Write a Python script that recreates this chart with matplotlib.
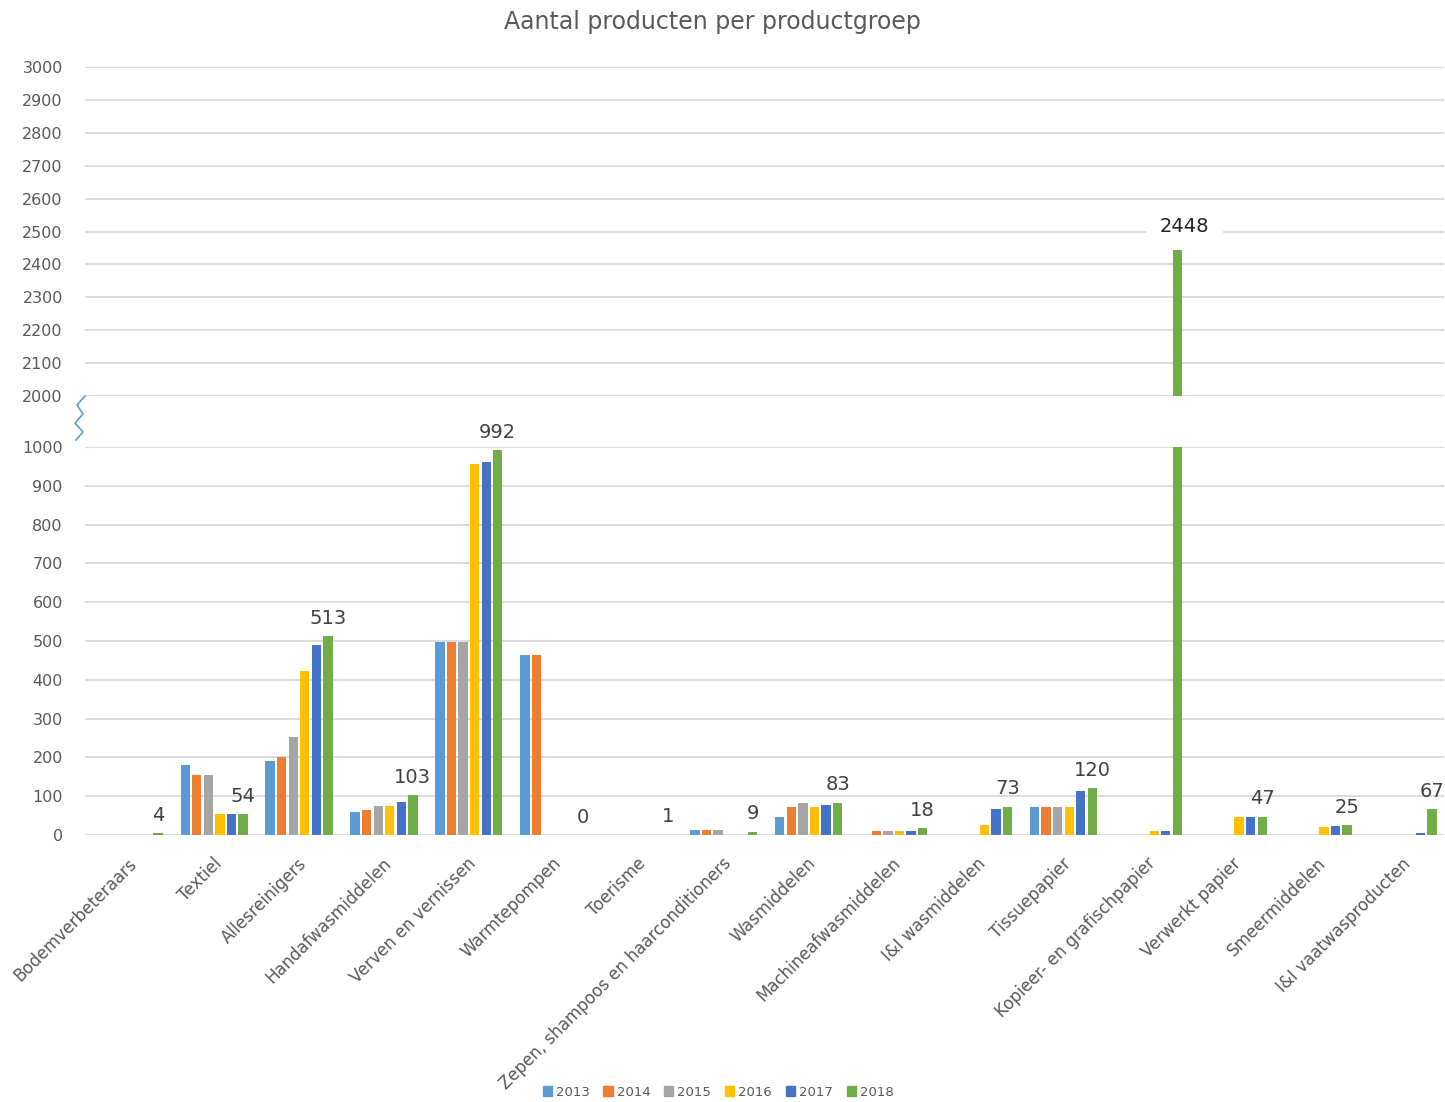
import numpy as np
import matplotlib
matplotlib.use("Agg")
import matplotlib.pyplot as plt
from matplotlib.lines import Line2D

# data
groups = ["Bodemverbeteraars", "Textiel", "Allesreinigers", "Handafwasmiddelen",
          "Verven en vernissen", "Warmtepompen", "Toerisme",
          "Zepen, shampoos en haarconditioners", "Wasmiddelen",
          "Machineafwasmiddelen", "I&I wasmiddelen", "Tissuepapier",
          "Kopieer- en grafischpapier", "Verwerkt papier", "Smeermiddelen",
          "I&I vaatwasproducten"]
years = ["2013", "2014", "2015", "2016", "2017", "2018"]
colors = ["#5b9bd5", "#ed7d31", "#a5a5a5", "#ffc000", "#4472c4", "#70ad47"]

v2013 = [0, 180, 192, 58, 497, 465, 0, 12, 46, 0, 0, 72, 0, 0, 0, 0]
v2014 = [0, 155, 202, 65, 497, 465, 0, 12, 71, 10, 0, 72, 0, 0, 0, 0]
v2015 = [0, 155, 253, 75, 497, 0, 0, 12, 82, 10, 0, 72, 0, 0, 0, 0]
v2016 = [0, 54, 423, 75, 955, 0, 0, 0, 71, 10, 26, 72, 10, 46, 21, 0]
v2017 = [0, 54, 490, 85, 962, 0, 0, 0, 77, 10, 67, 113, 10, 46, 22, 5]
v2018 = [4, 54, 513, 103, 992, 0, 1, 9, 83, 18, 73, 120, 2448, 47, 25, 67]
series = [v2013, v2014, v2015, v2016, v2017, v2018]

W, H = 1445, 1102
fig = plt.figure(figsize=(W / 100, H / 100), dpi=100)
txt = "#595959"

def fy(py):
    return 1 - py / H

left, right = 85 / W, 1444 / W
ax_lo = fig.add_axes([left, fy(835), right - left, fy(447) - fy(835)])
ax_hi = fig.add_axes([left, fy(396), right - left, fy(67) - fy(396)])

x = np.arange(len(groups))
step, bw = 0.136, 0.11
for ax in (ax_lo, ax_hi):
    for i, (yr, vals, c) in enumerate(zip(years, series, colors)):
        ax.bar(x + (i - 2.5) * step + 0.02, vals, bw, color=c, label=yr, zorder=3)
    ax.set_xlim(-0.5, len(groups) - 0.5)
    for s in ax.spines.values():
        s.set_visible(False)
    ax.grid(axis="y", color="#d9d9d9", lw=1.3, zorder=0)
    ax.tick_params(axis="y", length=0, pad=16, labelsize=11.5, labelcolor=txt)
    ax.set_axisbelow(True)

ax_lo.set_ylim(0, 1000)
ax_lo.set_yticks(np.arange(0, 1001, 100))
ax_hi.set_ylim(2000, 3000)
ax_hi.set_yticks(np.arange(2000, 3001, 100))
ax_hi.set_xticks([])

ax_lo.set_xticks(x)
ax_lo.set_xticklabels(groups, rotation=45, ha="right", rotation_mode="anchor",
                      fontsize=12, color=txt)
ax_lo.tick_params(axis="x", length=0, pad=14)

# data labels on the 2018 series
xl = x + 2.5 * step + 0.02
for xi, v in zip(xl, v2018):
    if v > 1000:
        ax_hi.annotate(str(v), (xi, v), xytext=(5, 9), textcoords="offset points",
                       ha="center", va="bottom", fontsize=14, color="#222222",
                       bbox=dict(boxstyle="square,pad=0.7", fc="white", ec="none"),
                       zorder=5)
    else:
        ax_lo.annotate(str(v), (xi, v), xytext=(0, 6), textcoords="offset points",
                       ha="center", va="bottom", fontsize=14, color="#404040")

# axis break zigzag
zx = np.array([85, 77, 83, 75, 83, 76]) / W
zy = fy(np.array([396, 405, 414, 423, 432, 440]))
fig.add_artist(Line2D(zx, zy, color="#5b9bd5", lw=1.2))

fig.suptitle("Aantal producten per productgroep", x=0.493, y=fy(22), va="center",
             fontsize=17, color=txt)

handles = [plt.Rectangle((0, 0), 1, 1, color=c) for c in colors]
fig.legend(handles, years, loc="center", bbox_to_anchor=(0.497, fy(1092)), ncol=6,
           frameon=False, fontsize=9.5, handlelength=0.7, handleheight=0.7,
           handletextpad=0.3, columnspacing=1.05, labelcolor=txt)

fig.savefig("out.png", dpi=100)
